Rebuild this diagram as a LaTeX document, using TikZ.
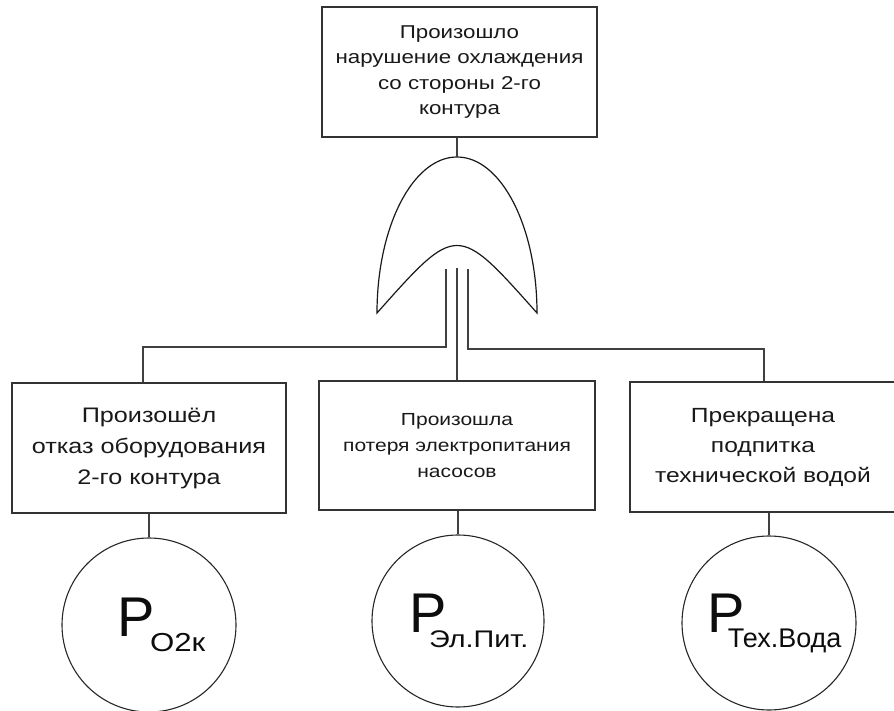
\documentclass[tikz,border=0pt]{standalone}
\usepackage{fontspec}
\setmainfont{Liberation Sans}
\newfontfamily\bxf[FakeStretch=1.2]{Liberation Sans}
\begin{document}
\begin{tikzpicture}[x=1pt,y=-1pt]
\tikzset{
  evbox/.style={draw=black!80, line width=1.3pt, fill=white, minimum height=130pt,
    align=center, inner sep=0pt, text=black!90},
  wire/.style={draw=black!75, line width=1.1pt},
  basic/.style={circle, draw=black!85, line width=1.1pt, minimum size=174pt,
    inner sep=0pt, text=black!95},
  gate/.style={draw=black!90, line width=1.2pt, fill=white}
}
\useasboundingbox (0,0) rectangle (894,711);

% top event
\node[evbox, minimum width=275pt, font=\bxf\fontsize{18.6}{25.5}\selectfont] (top) at (459.5,72)
  {Произошло\\нарушение охлаждения\\со стороны 2-го\\контура};

% OR gate
\coordinate (apex) at (457,157);
\coordinate (inL) at (446,269);
\coordinate (inM) at (457,268);
\coordinate (inR) at (468,269);
\draw[gate] (377,313) .. controls (377,226.8) and (412.8,157) .. (apex)
  .. controls (501.2,157) and (537,226.8) .. (537,313)
  .. controls (457,223) .. (377,313) -- cycle;

% intermediate events
\node[evbox, minimum width=274pt, font=\bxf\fontsize{21}{31}\selectfont] (b1) at (149,448)
  {Произошёл\\отказ оборудования\\2-го контура};
\node[evbox, minimum width=276pt, minimum height=129pt, font=\bxf\fontsize{17.5}{26}\selectfont] (b2) at (457,445.5)
  {Произошла\\потеря электропитания\\насосов};
\node[evbox, minimum width=266pt, font=\bxf\fontsize{20.5}{30}\selectfont] (b3) at (763,447)
  {Прекращена\\подпитка\\технической водой};

% basic events
\node[basic] (c1) at (149,625)
  {\hspace*{25pt}\fontsize{56}{56}\selectfont P\hspace{-5pt}\raisebox{-15pt}{\bxf\fontsize{26}{26}\selectfont O2к}};
\node[basic, minimum size=172pt] (c2) at (458,621)
  {\hspace*{22pt}\fontsize{56}{56}\selectfont P\hspace{-18pt}\raisebox{-15pt}{\bxf\fontsize{24}{24}\selectfont Эл.Пит.}};
\node[basic] (c3) at (769,623)
  {\hspace*{11pt}\fontsize{56}{56}\selectfont P\hspace{-17pt}\raisebox{-15pt}{\fontsize{27}{27}\selectfont Тех.Вода}};

% connectors
\draw[wire] (top.south -| apex) -- (apex);
\draw[wire] (inL) -- (446,347) -| ([xshift=-6pt]b1.north);
\draw[wire] (inM) -- (b2.north);
\draw[wire] (inR) -- (468,349) -| ([xshift=1pt]b3.north);
\draw[wire] (b1.south) -- (c1.north);
\draw[wire] (c2.north |- b2.south) -- (c2.north);
\draw[wire] (c3.north |- b3.south) -- (c3.north);
\end{tikzpicture}
\end{document}
